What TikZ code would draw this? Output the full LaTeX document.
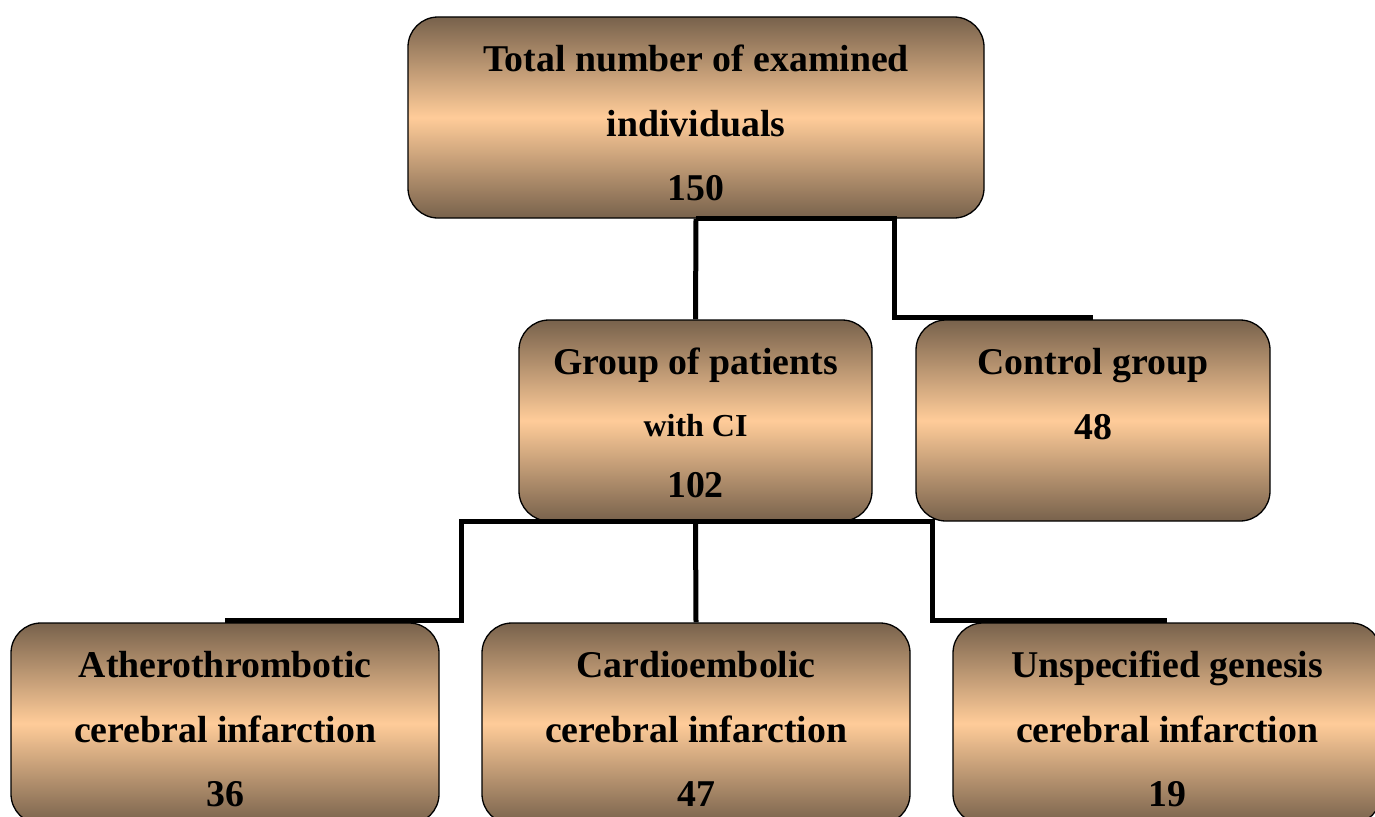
\documentclass[tikz,border=0pt]{standalone}
\usepackage{fontspec}
\setmainfont{Liberation Serif}
\definecolor{boxdark}{RGB}{120,98,76}
\definecolor{boxlight}{RGB}{255,204,153}
\tikzset{
  box/.style={rectangle, rounded corners=30pt, draw=black, line width=1.3pt,
    top color=boxdark, bottom color=boxdark, middle color=boxlight,
    minimum height=201pt, inner sep=0pt},
  boxtext/.style={anchor=north, inner sep=0pt, align=center,
    font=\bfseries\fontsize{37.8}{64.5}\selectfont},
  link/.style={line width=5pt, line join=miter, draw=black}
}
\newcommand{\firstline}{\rule{0pt}{30pt}}
\begin{document}
\begin{tikzpicture}[x=1pt,y=-1pt]
\useasboundingbox (0,0) rectangle (1375,816);
\clip (0,0) rectangle (1375,816);
% boxes
\node[box, minimum width=576pt] (total) at (696,117.5) {};
\node[box, minimum width=353pt] (patients) at (695.5,420.5) {};
\node[box, minimum width=354pt] (control) at (1093,420.5) {};
\node[box, minimum width=428pt] (athero) at (225,723.5) {};
\node[box, minimum width=428pt] (cardio) at (696,723.5) {};
\node[box, minimum width=428pt] (unspec) at (1167,723.5) {};
% connectors
\coordinate (tc) at (894,270);
\coordinate (ca) at (461,570);
\coordinate (cb) at (932,570);
\draw[link] (total.south) -- (patients.north);
\draw[link] (total.south) -| (tc) |- ([yshift=2pt]control.north);
\draw[link] (patients.south) -- (cardio.north);
\draw[link] (patients.south) -| (ca) |- ([yshift=2pt]athero.north);
\draw[link] (patients.south) -| (cb) |- ([yshift=2pt]unspec.north);
% texts
\node[boxtext] (total-t) at ([yshift=-25pt]total.north)
  {\firstline Total number of examined\\individuals\\150};
\node[boxtext] (patients-t) at ([yshift=-25pt]patients.north)
  {\firstline Group of patients\\[-3pt]{\fontsize{32}{64.5}\selectfont with CI}\\[-3pt]102};
\node[boxtext] (control-t) at ([yshift=-25pt]control.north)
  {\firstline Control group\\48};
\node[boxtext] (athero-t) at ([yshift=-25pt]athero.north)
  {\firstline Atherothrombotic\\cerebral infarction\\36};
\node[boxtext] (cardio-t) at ([yshift=-25pt]cardio.north)
  {\firstline Cardioembolic\\cerebral infarction\\47};
\node[boxtext] (unspec-t) at ([yshift=-25pt]unspec.north)
  {\firstline Unspecified genesis\\cerebral infarction\\19};
\end{tikzpicture}
\end{document}
